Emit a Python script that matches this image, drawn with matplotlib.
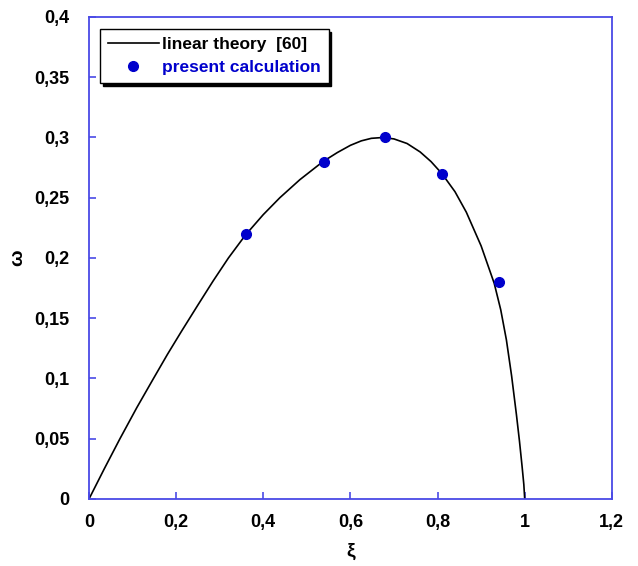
import matplotlib
matplotlib.use('Agg')
import matplotlib.pyplot as plt
from matplotlib.ticker import FuncFormatter, MultipleLocator

plt.rcParams['font.family'] = ['Liberation Sans', 'DejaVu Sans']

# linear theory curve
xi_theory = [0, 0.035, 0.071, 0.11, 0.148, 0.18, 0.212, 0.25, 0.285, 0.32, 0.359,
             0.40, 0.438, 0.484, 0.537, 0.57, 0.60, 0.625, 0.648, 0.675, 0.70,
             0.73, 0.76, 0.785, 0.81, 0.84, 0.866, 0.90, 0.93, 0.945, 0.958,
             0.97, 0.981, 0.988, 0.994, 0.998, 1.0]
om_theory = [0, 0.025, 0.05, 0.076, 0.1, 0.12, 0.139, 0.161, 0.181, 0.2, 0.219,
             0.236, 0.25, 0.265, 0.28, 0.2875, 0.2935, 0.2972, 0.2993, 0.3, 0.2988,
             0.295, 0.288, 0.28, 0.27, 0.255, 0.238, 0.21, 0.179, 0.157, 0.132,
             0.102, 0.07, 0.048, 0.027, 0.012, 0]

# present calculation
xi_calc = [0.36, 0.54, 0.68, 0.81, 0.94]
om_calc = [0.22, 0.28, 0.30, 0.27, 0.18]

frame_col = '#4a4ae6'

fig = plt.figure(figsize=(6.38, 5.66), dpi=100)
ax = fig.add_axes([0.1395, 0.1184, 0.8195, 0.8516])

ax.plot(xi_theory, om_theory, color='black', lw=1.2, label='linear theory  [60]')
ax.plot(xi_calc, om_calc, 'o', color='#0000cc', ms=7, label='present calculation')

ax.set_xlim(0, 1.2)
ax.set_ylim(0, 0.4)
ax.xaxis.set_major_locator(MultipleLocator(0.2))
ax.yaxis.set_major_locator(MultipleLocator(0.05))
fmt = FuncFormatter(lambda v, p: ('%g' % round(v, 3)).replace('.', ','))
ax.xaxis.set_major_formatter(fmt)
ax.yaxis.set_major_formatter(fmt)

for s in ax.spines.values():
    s.set_color(frame_col)
    s.set_linewidth(1.3)
ax.tick_params(direction='in', length=5, width=1.2, color=frame_col,
               top=False, right=False, labelsize=13)
ax.tick_params(axis='y', pad=14)
ax.tick_params(axis='x', pad=11)
for t in ax.get_xticklabels() + ax.get_yticklabels():
    t.set_fontweight('bold')

ax.set_xlabel('ξ', fontsize=14, fontweight='bold', labelpad=8)
ax.set_ylabel('ω', fontsize=14, fontweight='bold', labelpad=6)

leg = ax.legend(loc='upper left', bbox_to_anchor=(0.012, 0.985), frameon=True,
                fancybox=False, shadow={'color': 'black', 'alpha': 1},
                prop={'weight': 'bold', 'size': 12.5}, handlelength=2.9,
                handletextpad=0.2, borderpad=0.45, labelspacing=0.45,
                borderaxespad=0.3)
leg.get_frame().set_edgecolor('black')
leg.get_frame().set_linewidth(1.0)
leg.get_texts()[1].set_color('#0000cc')

fig.savefig('out.png', dpi=100)
